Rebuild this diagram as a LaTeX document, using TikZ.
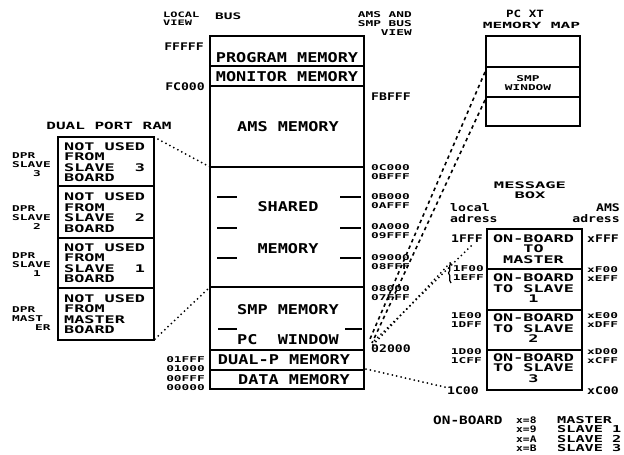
\documentclass[tikz,border=0pt]{standalone}
\usepackage{fontspec}
\newfontfamily\plotfont{DejaVu Sans Mono}[FakeStretch=1.25]
\newfontfamily\plotwide{DejaVu Sans Mono}[FakeStretch=1.6]
\newfontfamily\plotxw{DejaVu Sans Mono}[FakeStretch=1.9]
\usetikzlibrary{decorations.pathreplacing}
\newcommand\fnar[2]{\plotfont\bfseries\fontsize{#1}{#2}\selectfont}
\newcommand\fwide[2]{\plotwide\bfseries\fontsize{#1}{#2}\selectfont}
\newcommand\fxw[2]{\plotxw\bfseries\fontsize{#1}{#2}\selectfont}
\begin{document}
\begin{tikzpicture}[x=1pt,y=-1pt,
  frame/.style={line width=2.4pt},
  divline/.style={line width=1.8pt},
  tickline/.style={line width=1.5pt},
  dotline/.style={line width=2pt, line cap=round, dash pattern=on 0pt off 4.5pt},
  dashline/.style={line width=1.6pt, dash pattern=on 3.5pt off 3.5pt},
  lbl/.style={inner sep=0pt, font={\fnar{13.5}{14}}},
  sm/.style={inner sep=0pt, font={\fnar{10.5}{11}}},
  st/.style={inner sep=0pt, font={\fwide{8}{#1}}},
  st/.default=9,
  wd/.style={inner sep=0pt, font={\fwide{10.5}{#1}}},
  wd/.default=10.5]
\useasboundingbox (0,0) rectangle (624,455);
\fill[white] (0,0) rectangle (624,455);

% ---------------- main memory box
\draw[frame] (210,36) rectangle (364,389);
\foreach \yy in {66,86,167,287,350,370}
  \draw[divline] (210,\yy) -- (364,\yy);
\foreach \yy in {197,228,258}{
  \draw[tickline] (217,\yy) -- (237,\yy);
  \draw[tickline] (340,\yy) -- (361,\yy);}
\draw[tickline] (218,329) -- (237,329);
\draw[tickline] (345,329) -- (362,329);

\node[lbl] (prog) at (287,58) {PROGRAM MEMORY};
\node[lbl] (mon)  at (287,77) {MONITOR MEMORY};
\node[lbl] (ams)  at (288,127) {AMS MEMORY};
\node[lbl] (shr)  at (288,207) {SHARED};
\node[lbl] (shm)  at (288,249) {MEMORY};
\node[lbl] (smp)  at (288,310) {SMP MEMORY};
\node[lbl] (pcw)  at (288,340) {PC\ \ WINDOW};
\node[lbl] (dual) at (284,360) {DUAL-P MEMORY};
\node[lbl] (data) at (294,380) {DATA MEMORY};

% header texts
\node[anchor=west, align=left, inner sep=0pt, font={\fwide{7.5}{7.5}}] (lview) at (163,18.5) {LOCAL\\VIEW};
\node[anchor=west, inner sep=0pt, font={\fwide{9}{9}}] (bus) at (215,16) {BUS};
\node[st, anchor=east, align=right] (amsview) at (412,24) {AMS AND\\SMP BUS\\VIEW};

% left addresses
\node[sm, anchor=east] (aFFFFF) at (204,47) {FFFFF};
\node[sm, anchor=east] (aFC000) at (205,87) {FC000};
\node[st=9.3, anchor=east, align=right] (alow) at (205,373.5) {01FFF\\01000\\00FFF\\00000};

% right addresses
\node[sm, anchor=west] (aFBFFF) at (371,97) {FBFFF};
\node[st, anchor=west, align=left] (a0C) at (371,172) {0C000\\0BFFF};
\node[st, anchor=west, align=left] (a0B) at (371,201) {0B000\\0AFFF};
\node[st, anchor=west, align=left] (a0A) at (371,231) {0A000\\09FFF};
\node[st, anchor=west, align=left] (a09) at (371,262.5) {09000\\08FFF};
\node[st, anchor=west, align=left] (a08) at (371,293) {08000\\07FFF};
\node[sm, anchor=west] (a02) at (371,349) {02000};

% ---------------- dual port RAM
\node[inner sep=0pt, font={\fwide{10}{10}}] (dprtitle) at (109,126) {DUAL PORT RAM};
\draw[frame] (58,137) rectangle (154,340);
\foreach \yy in {186,238,288}
  \draw[divline] (58,\yy) -- (154,\yy);
\node[wd, anchor=west, align=left] (d3) at (64,162) {NOT USED\\FROM\\SLAVE\ \ 3\\BOARD};
\node[wd, anchor=west, align=left] (d2) at (64,212.5) {NOT USED\\FROM\\SLAVE\ \ 2\\BOARD};
\node[wd, anchor=west, align=left] (d1) at (64,263) {NOT USED\\FROM\\SLAVE\ \ 1\\BOARD};
\node[wd, anchor=west, align=left] (dm) at (64,314) {NOT USED\\FROM\\MASTER\\BOARD};
\node[st, anchor=west, align=left] (l3) at (12,165) {DPR\\SLAVE\\\hspace*{21pt}3};
\node[st, anchor=west, align=left] (l2) at (12,217.5) {DPR\\SLAVE\\\hspace*{21pt}2};
\node[st, anchor=west, align=left] (l1) at (12,265) {DPR\\SLAVE\\\hspace*{21pt}1};
\node[st, anchor=west, align=left] (lm) at (12,319) {DPR\\MAST\\\hspace*{23pt}ER};

% ---------------- PC XT memory map
\node[inner sep=0pt, font={\fnar{10}{10}}] (pcxt) at (525,14) {PC XT};
\node[inner sep=0pt, font={\fxw{8.5}{9}}] (mmap) at (531.5,25.5) {MEMORY MAP};
\draw[frame] (486,36) rectangle (580,126);
\foreach \yy in {67,97}
  \draw[divline] (486,\yy) -- (580,\yy);
\node[st=9.5, align=center] (smpw) at (528,83) {SMP\\WINDOW};

% ---------------- message box
\node[inner sep=0pt, font={\fxw{9}{9.5}}, align=center] (mbtitle) at (530,190) {MESSAGE\\BOX};
\node[sm, anchor=west, align=left] (locad) at (450,213) {local\\adress};
\node[sm, anchor=east, align=right] (amsad) at (620,213) {AMS\\adress};
\draw[frame] (487,229) rectangle (582,390);
\foreach \yy in {269,310,350}
  \draw[divline] (487,\yy) -- (582,\yy);
\node[wd, align=center] (m0) at (533.5,249) {ON-BOARD\\TO\\MASTER};
\node[wd, align=center] (m1) at (533.5,288.5) {ON-BOARD\\TO SLAVE\\1};
\node[wd, align=center] (m2) at (533.5,328.5) {ON-BOARD\\TO SLAVE\\2};
\node[wd, align=center] (m3) at (533.5,368) {ON-BOARD\\TO SLAVE\\3};

\node[sm, anchor=east] (b1FFF) at (483,239) {1FFF};
\node[st, anchor=east, align=right] (b1F) at (484,273) {1F00\\1EFF};
\node[st, anchor=east, align=right] (b1E) at (482,320) {1E00\\1DFF};
\node[st, anchor=east, align=right] (b1D) at (482,356.5) {1D00\\1CFF};
\node[sm, anchor=east] (b1C) at (479,391) {1C00};
\node[sm, anchor=west] (xFFF) at (587,239) {xFFF};
\node[st, anchor=west, align=left] (xF) at (587,274) {xF00\\xEFF};
\node[st, anchor=west, align=left] (xE) at (587,320) {xE00\\xDFF};
\node[st, anchor=west, align=left] (xD) at (587,356.5) {xD00\\xCFF};
\node[sm, anchor=west] (xC) at (587,391) {xC00};

\draw[line width=1.2pt, decorate, decoration={brace, amplitude=2.5pt}] (451,283) -- (451,263);

% legend
\node[anchor=west, inner sep=0pt, font={\fnar{11.5}{11.5}}] (onb) at (433,420) {ON-BOARD};
\node[anchor=west, align=left, inner sep=0pt, font={\fnar{9}{9.5}}] (xcol) at (516,434) {x=8\\x=9\\x=A\\x=B};
\node[anchor=west, align=left, inner sep=0pt, font={\fwide{9.5}{9.6}}] (mcol) at (557,434) {MASTER\\SLAVE 1\\SLAVE 2\\SLAVE 3};

% ---------------- connectors
\coordinate (dprTR) at (154,137);
\coordinate (dprBR) at (155,339);
\coordinate (shTL) at (210,167);
\coordinate (shBL) at (210,287);
\coordinate (pcA) at (485,72);
\coordinate (pcB) at (485,100);
\coordinate (cvA) at (370,339);
\coordinate (cvB) at (372,343);
\coordinate (mbA) at (471,246);
\coordinate (mbB) at (450,263);
\coordinate (cvC) at (372,343);
\coordinate (cvD) at (372,346);
\coordinate (mbLo) at (449,388);
\coordinate (dpLo) at (366,369);

\draw[dotline] (dprTR) -- (shTL);
\draw[dotline] (dprBR) -- (shBL);
\draw[dashline] (pcA) -- (cvA);
\draw[dashline] (pcB) -- (cvB);
\draw[dotline] (mbA) -- (cvC);
\draw[dotline] (mbB) -- (cvD);
\draw[dotline] (dpLo) -- (mbLo);
\end{tikzpicture}
\end{document}
